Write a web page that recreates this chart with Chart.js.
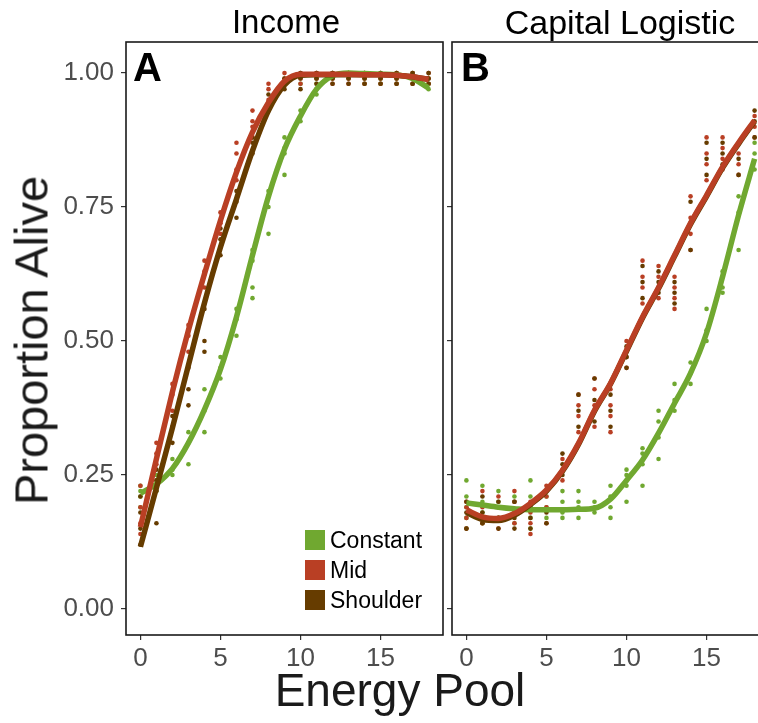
<!DOCTYPE html>
<html>
<head>
<meta charset="utf-8">
<script src="https://cdn.jsdelivr.net/npm/chart.js@4/dist/chart.umd.min.js"></script>
<style>
  body { margin: 0; background: #fff; overflow: hidden; width: 758px; height: 723px; position: relative;
         font-family: "Liberation Sans", Arial, sans-serif; }
  canvas { position: absolute; top: 0; }
  .txt { position: absolute; white-space: nowrap; line-height: 1; }
  .leg { position: absolute; left: 305px; font-size: 23px; color: #000; line-height: 20px; }
  .leg span { display: inline-block; width: 20px; height: 20px; vertical-align: top; margin-right: 5px; }
</style>
</head>
<body>
<canvas id="chartA" width="450" height="723" style="left:0"></canvas>
<canvas id="chartB" width="350" height="723" style="left:440px"></canvas>

<div class="txt" style="left:86px;top:5px;width:400px;text-align:center;font-size:33px;">Income</div>
<div class="txt" style="left:420px;top:5px;width:400px;text-align:center;font-size:34px;">Capital Logistic</div>
<div class="txt" style="left:133px;top:47px;font-size:40px;font-weight:bold;">A</div>
<div class="txt" style="left:461px;top:47px;font-size:40px;font-weight:bold;">B</div>
<div class="txt" style="left:-169px;top:317px;width:400px;height:47px;text-align:center;font-size:47px;color:#1a1a1a;transform:rotate(-90deg);">Proportion Alive</div>
<div class="txt" style="left:200px;top:667px;width:400px;text-align:center;font-size:46px;color:#1a1a1a;">Energy Pool</div>

<div class="leg" style="top:530px"><span style="background:#70a830"></span>Constant</div>
<div class="leg" style="top:560px"><span style="background:#b93f24"></span>Mid</div>
<div class="leg" style="top:590px"><span style="background:#663c00"></span>Shoulder</div>

<script>
// energy pool values (x)
var energy = [0, 1, 2, 3, 4, 5, 6, 7, 8, 9, 10, 11, 12, 13, 14, 15, 16, 17, 18];
var xTicks = [0, 5, 10, 15];
var yTicks = [0, 0.25, 0.5, 0.75, 1];

// smoothed curves, panel A (Income)
var constA = [0.216, 0.233, 0.262, 0.31, 0.372, 0.447, 0.545, 0.66, 0.77, 0.858, 0.92, 0.97, 0.995, 1.0, 0.999, 0.998, 0.997, 0.99, 0.972];
var midA = [0.153, 0.28, 0.405, 0.52, 0.625, 0.725, 0.815, 0.89, 0.945, 0.985, 0.998, 0.998, 0.998, 0.998, 0.997, 0.997, 0.996, 0.993, 0.988];
var shoulderA = [0.116, 0.226, 0.338, 0.455, 0.571, 0.675, 0.765, 0.855, 0.93, 0.978, 0.996, 0.997, 0.997, 0.997, 0.997, 0.997, 0.996, 0.993, 0.988];

// smoothed curves, panel B (Capital Logistic)
var constB = [0.198, 0.194, 0.19, 0.187, 0.185, 0.185, 0.185, 0.186, 0.188, 0.205, 0.24, 0.278, 0.328, 0.384, 0.44, 0.515, 0.62, 0.735, 0.84];
var midB = [0.185, 0.172, 0.169, 0.178, 0.197, 0.222, 0.259, 0.309, 0.371, 0.421, 0.483, 0.545, 0.6, 0.66, 0.72, 0.772, 0.825, 0.87, 0.912];
var shoulderB = [0.18, 0.167, 0.165, 0.175, 0.195, 0.22, 0.257, 0.307, 0.369, 0.42, 0.481, 0.543, 0.598, 0.658, 0.718, 0.77, 0.823, 0.868, 0.91];

// raw runs, one list per energy value
var constA_pts = [[0.19,0.21,0.22,0.23],[0.22,0.24,0.25],[0.25,0.26,0.28],[0.27,0.31,0.33],[0.33,0.37,0.41],[0.43,0.45,0.47],[0.51,0.54,0.56],[0.58,0.6,0.65,0.67],[0.7,0.75,0.77,0.78],[0.81,0.85,0.86,0.88],[0.91,0.93,0.98],[0.96,0.97,0.98,0.99],[0.99,1.0,1.0],[0.99,1.0,1.0],[0.98,0.99,1.0],[0.98,0.99,1.0],[0.98,0.99,1.0],[0.98,0.99,1.0],[0.97,0.98,0.99]];
var midA_pts = [[0.14,0.16,0.19,0.23],[0.27,0.29,0.31],[0.37,0.4,0.42],[0.48,0.51,0.53],[0.6,0.63,0.65],[0.7,0.72,0.74],[0.8,0.82,0.85,0.87],[0.88,0.9,0.91,0.93],[0.94,0.95,0.97,0.98],[0.98,0.99,1.0],[0.98,0.99,1.0],[0.99,1.0,1.0],[0.98,0.99,1.0],[0.98,0.99,1.0],[0.98,0.99,1.0],[0.98,0.99,1.0],[0.98,0.99,1.0],[0.98,0.99,1.0],[0.98,0.99,1.0]];
var shoulderA_pts = [[0.12,0.15,0.18,0.21],[0.16,0.22,0.24,0.26],[0.31,0.34,0.36],[0.38,0.41,0.45],[0.48,0.5,0.56],[0.66,0.69,0.71],[0.73,0.76,0.78],[0.85,0.87,0.88],[0.93,0.94,0.96],[0.97,0.98,0.99],[0.97,0.99,1.0],[0.98,0.99,1.0],[0.98,0.99,1.0],[0.98,0.99,1.0],[0.98,0.99,1.0],[0.98,0.99,1.0],[0.98,0.99,1.0],[0.98,0.99,1.0],[0.98,0.99,1.0]];

var constB_pts = [[0.15,0.17,0.19,0.21,0.24],[0.16,0.18,0.2,0.23],[0.17,0.19,0.2,0.22],[0.16,0.18,0.2,0.21],[0.15,0.17,0.19,0.21,0.24],[0.17,0.19,0.21],[0.17,0.18,0.2,0.22],[0.17,0.19,0.2,0.22],[0.18,0.19,0.2],[0.17,0.19,0.21,0.23],[0.2,0.23,0.25,0.26],[0.23,0.27,0.29,0.3],[0.28,0.32,0.35,0.37],[0.37,0.39,0.42],[0.42,0.44,0.46],[0.5,0.52,0.56],[0.59,0.6,0.63],[0.67,0.74,0.77],[0.82,0.85,0.87]];
var midB_pts = [[0.15,0.17,0.19,0.2],[0.16,0.17,0.19,0.22],[0.15,0.17,0.19,0.21],[0.16,0.18,0.2,0.22],[0.14,0.16,0.18,0.2],[0.16,0.19,0.21,0.23],[0.24,0.26,0.28],[0.33,0.36,0.38,0.4],[0.34,0.38,0.41,0.43],[0.33,0.36,0.38,0.41],[0.45,0.47,0.5],[0.57,0.6,0.62,0.65],[0.58,0.6,0.62,0.64],[0.56,0.58,0.6,0.62],[0.67,0.7,0.73,0.77],[0.8,0.83,0.85,0.88],[0.82,0.84,0.86,0.88],[0.81,0.83,0.85],[0.88,0.9,0.92]];
var shoulderB_pts = [[0.15,0.18,0.2],[0.16,0.18,0.21],[0.15,0.17,0.2],[0.15,0.17,0.2],[0.15,0.17,0.19],[0.16,0.18,0.22],[0.25,0.27,0.29],[0.34,0.37,0.4],[0.35,0.39,0.43],[0.34,0.37,0.4],[0.45,0.47,0.49],[0.58,0.61,0.64],[0.59,0.61,0.63],[0.57,0.59,0.61],[0.67,0.72,0.76],[0.81,0.84,0.87],[0.83,0.85,0.87],[0.81,0.84],[0.88,0.91,0.93]];

var green = '#70a830', red = '#b93f24', brown = '#663c00';

function curve(ys) {
  return energy.map(function (x, i) { return { x: x, y: ys[i] }; });
}
function cloud(lists) {
  var out = [];
  lists.forEach(function (vals, i) {
    vals.forEach(function (v) { out.push({ x: energy[i], y: v }); });
  });
  return out;
}
function lineSet(ys, col) {
  return { data: curve(ys), showLine: true, borderColor: col, borderWidth: 5.5, pointRadius: 0,
           cubicInterpolationMode: 'monotone', fill: false };
}
function dotSet(lists, col) {
  return { data: cloud(lists), showLine: false, pointRadius: 2.3, pointBorderWidth: 0,
           backgroundColor: col, borderColor: col };
}

var panelBorder = {
  id: 'panelBorder',
  afterDatasetsDraw: function (chart) {
    var a = chart.chartArea, ctx = chart.ctx;
    ctx.save();
    ctx.strokeStyle = '#1a1a1a';
    ctx.lineWidth = 1.6;
    ctx.strokeRect(a.left, a.top, a.right - a.left, a.bottom - a.top);
    ctx.restore();
  }
};

var tickFont = { family: '"Liberation Sans", Arial, sans-serif', size: 26 };
var tickGrid = { display: true, drawOnChartArea: false, drawTicks: true, tickLength: 5, color: '#333', lineWidth: 1.2 };

function makePanel(id, sets, showY, pad, yWidth) {
  return new Chart(document.getElementById(id), {
    type: 'scatter',
    data: { datasets: sets },
    plugins: [panelBorder],
    options: {
      responsive: false,
      animation: false,
      layout: { padding: pad },
      plugins: { legend: { display: false }, tooltip: { enabled: false } },
      scales: {
        x: {
          min: -0.9, max: 18.9,
          afterBuildTicks: function (s) { s.ticks = xTicks.map(function (v) { return { value: v }; }); },
          afterFit: function (s) { s.height = 88; },
          ticks: { color: '#4d4d4d', font: tickFont, padding: 3, maxRotation: 0 },
          grid: tickGrid,
          border: { display: false }
        },
        y: {
          min: -0.0485, max: 1.058,
          afterBuildTicks: function (s) { s.ticks = yTicks.map(function (v) { return { value: v }; }); },
          afterFit: function (s) { s.width = yWidth; },
          ticks: { display: showY, color: '#4d4d4d', font: tickFont, padding: 7,
                   callback: function (v) { return v.toFixed(2); } },
          grid: tickGrid,
          border: { display: false }
        }
      }
    }
  });
}

makePanel('chartA', [
  lineSet(midA, red), lineSet(shoulderA, brown), lineSet(constA, green),
  dotSet(shoulderA_pts, brown), dotSet(midA_pts, red), dotSet(constA_pts, green)
], true, { left: 0, right: 7, top: 42, bottom: 0 }, 126);

makePanel('chartB', [
  lineSet(midB, red), lineSet(shoulderB, brown), lineSet(constB, green),
  dotSet(shoulderB_pts, brown), dotSet(midB_pts, red), dotSet(constB_pts, green)
], false, { left: 7, right: 21, top: 42, bottom: 0 }, 5);
</script>
</body>
</html>
